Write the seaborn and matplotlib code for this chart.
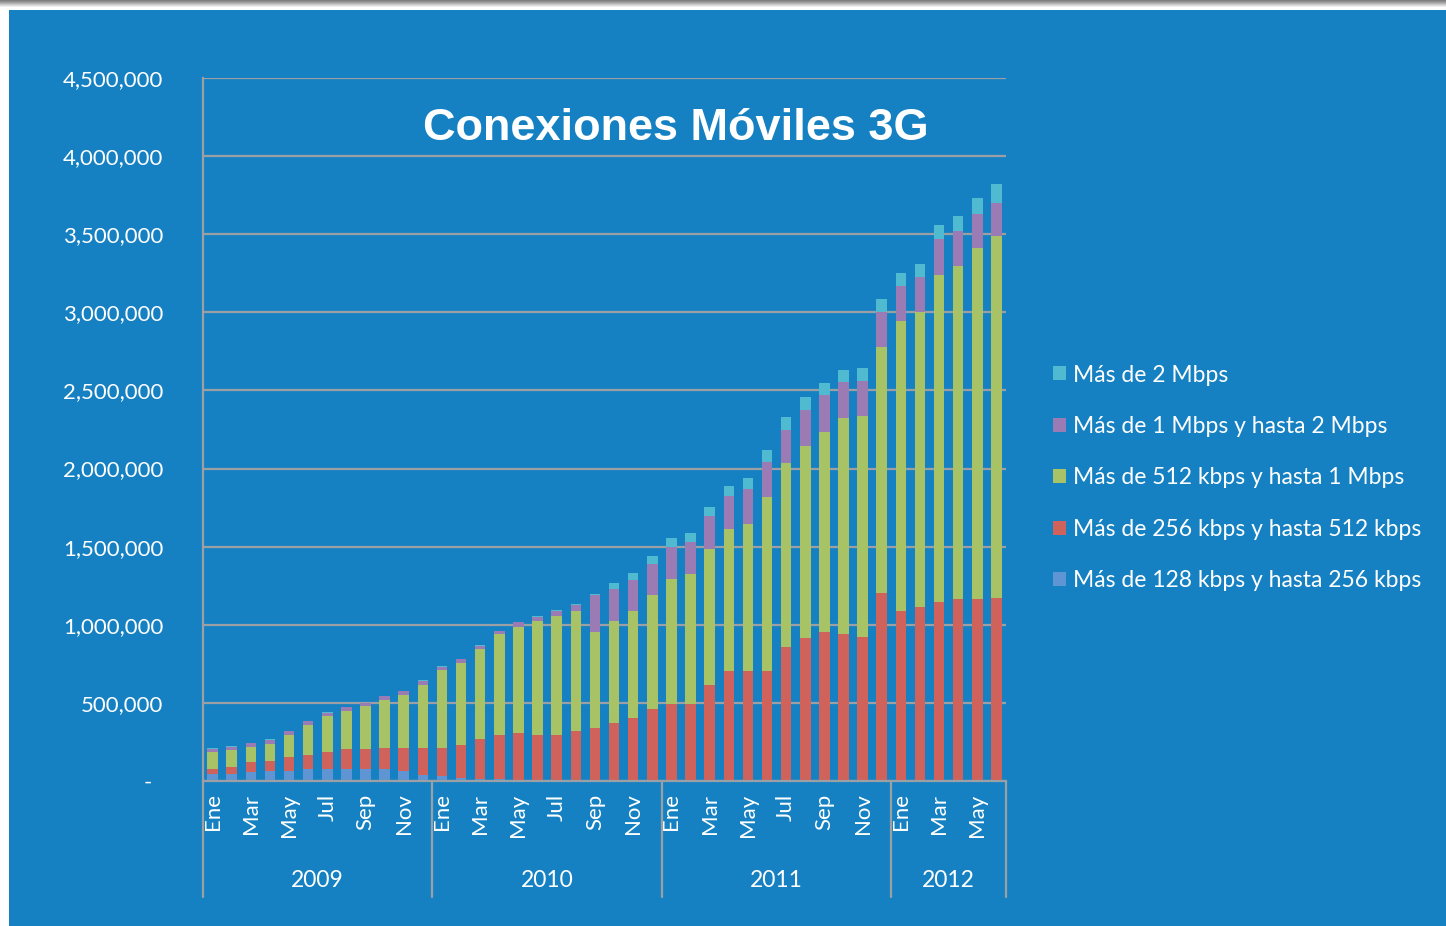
import numpy as np
import pandas as pd
import matplotlib
matplotlib.use("Agg")
import matplotlib.pyplot as plt
from matplotlib.patches import Patch, Rectangle
import seaborn as sns

# ---------------- data ----------------
years = ["2009", "2010", "2011", "2012"]
months_per_year = [12, 12, 12, 6]
month_names = ["Ene", "Feb", "Mar", "Abr", "May", "Jun",
               "Jul", "Ago", "Sep", "Oct", "Nov", "Dic"]
month_labels_shown = ["Ene", "Mar", "May", "Jul", "Sep", "Nov"]

yticks = [0, 500000, 1000000, 1500000, 2000000, 2500000,
          3000000, 3500000, 4000000, 4500000]
ytick_labels = ["-  ", "500,000", "1,000,000", "1,500,000", "2,000,000",
                "2,500,000", "3,000,000", "3,500,000", "4,000,000", "4,500,000"]

series_names = ["Más de 128 kbps y hasta 256 kbps",
                "Más de 256 kbps y hasta 512 kbps",
                "Más de 512 kbps y hasta 1 Mbps",
                "Más de 1 Mbps y hasta 2 Mbps",
                "Más de 2 Mbps"]

s_128_256 = [47000, 47000, 58000, 62000, 64000, 75000, 79000, 79000, 79000, 75000, 64000, 36000,
             32000, 17000, 11000, 10000, 6000, 4000, 3000, 2000, 2000, 1000, 1000, 1000,
             1000, 1000, 1000, 1000, 1000, 1000, 1000, 1000, 1000, 1000, 1000, 1000,
             1000, 1000, 1000, 1000, 1000, 1000]
s_256_512 = [32000, 43000, 64000, 66000, 90000, 89000, 107000, 124000, 124000, 136000, 149000, 177000,
             181000, 213000, 256000, 284000, 303000, 290000, 291000, 320000, 335000, 372000, 400000, 459000,
             492000, 492000, 613000, 705000, 705000, 705000, 859000, 916000, 955000, 938000, 918000, 1202000,
             1085000, 1110000, 1147000, 1162000, 1162000, 1173000]
s_512_1m = [107000, 110000, 96000, 111000, 138000, 192000, 228000, 243000, 275000, 309000, 335000, 400000,
            497000, 527000, 576000, 645000, 674000, 732000, 762000, 768000, 619000, 653000, 687000, 732000,
            797000, 829000, 868000, 904000, 936000, 1113000, 1173000, 1229000, 1279000, 1386000, 1416000, 1574000,
            1859000, 1892000, 2089000, 2134000, 2252000, 2317000]
s_1m_2m = [22000, 20000, 25000, 25000, 28000, 26000, 23000, 26000, 21000, 24000, 26000, 28000,
           22000, 24000, 23000, 21000, 32000, 26000, 30000, 38000, 234000, 200000, 198000, 200000,
           210000, 209000, 216000, 214000, 224000, 220000, 217000, 228000, 235000, 230000, 228000, 228000,
           226000, 221000, 231000, 226000, 216000, 211000]
s_2m = [3000, 3000, 3000, 3000, 3000, 3000, 3000, 3000, 3000, 3000, 3000, 3000,
        3000, 3000, 3000, 3000, 5000, 6000, 8000, 8000, 8000, 39000, 47000, 50000,
        57000, 58000, 57000, 66000, 71000, 79000, 81000, 81000, 79000, 79000, 81000, 82000,
        83000, 88000, 93000, 96000, 101000, 118000]

series_values = [s_128_256, s_256_512, s_512_1m, s_1m_2m, s_2m]
series_colors = ["#5E95D2", "#CF625A", "#A8C366", "#9A7BB3", "#4FBAD0"]

# ---------------- build frame ----------------
periodos, mes_corto = [], []
for y, n in zip(years, months_per_year):
    for m in month_names[:n]:
        periodos.append(f"{m} {y}")
        mes_corto.append(m)

df = pd.DataFrame({"periodo": periodos})
for name, vals in zip(series_names, series_values):
    df[name] = vals
cum = df[series_names].cumsum(axis=1)
for name in series_names:
    df["cum_" + name] = cum[name]

# ---------------- style ----------------
sns.set_style("white")
plt.rcParams["font.family"] = ["Lato", "DejaVu Sans"]

BG = "#1581C2"
GRID = "#9C9FA3"
W, H = 1446, 926

fig = plt.figure(figsize=(W / 100, H / 100), dpi=100)
fig.patch.set_facecolor("white")
fig.add_artist(Rectangle((9 / W, 0), 1, (H - 10) / H, transform=fig.transFigure,
                         facecolor=BG, edgecolor="none", zorder=-5))
# thin gray strip at the top
grays = ["#7F7F7F", "#8E8E8E", "#A0A0A0", "#B4B4B4", "#C8C8C8", "#DCDCDC", "#EEEEEE"]
for i, g in enumerate(grays):
    fig.add_artist(Rectangle((0, (H - i - 1) / H), 1, 1 / H, transform=fig.transFigure,
                             facecolor=g, edgecolor="none", zorder=-4))

ax = fig.add_axes([203 / W, (H - 781) / H, (1006 - 203) / W, (781 - 78) / H])
ax.set_facecolor("none")

# stacked bars: draw cumulative totals from top layer to bottom layer
for name, color in reversed(list(zip(series_names, series_colors))):
    sns.barplot(data=df, x="periodo", y="cum_" + name, color=color, saturation=1,
                width=0.55, errorbar=None, ax=ax, order=periodos, linewidth=0)

n = len(periodos)
ax.set_xlim(-0.5, n - 0.5)
ax.set_ylim(0, 4500000)
ax.set_axisbelow(True)
ax.yaxis.grid(True, color=GRID, linewidth=1.6)
ax.xaxis.grid(False)

for s in ["top", "right"]:
    ax.spines[s].set_visible(False)
for s in ["left", "bottom"]:
    ax.spines[s].set_color(GRID)
    ax.spines[s].set_linewidth(1.6)

ax.set_yticks(yticks)
ax.set_yticklabels(ytick_labels)
ax.tick_params(axis="y", length=5, width=1.6, color=GRID, pad=23.5,
               labelcolor="white", labelsize=16)

ax.set_xticks(range(n))
ax.set_xticklabels([m if m in month_labels_shown else "" for m in mes_corto])
ax.tick_params(axis="x", which="major", length=0, pad=9, labelrotation=90,
               labelcolor="white", labelsize=16)
ax.set_xticks(np.arange(-0.5, n, 1), minor=True)
ax.tick_params(axis="x", which="minor", length=46, width=1.6, color=GRID, direction="out")
ax.set_xlabel("")
ax.set_ylabel("")

# year separators and labels
bounds = np.concatenate([[0], np.cumsum(months_per_year)]) - 0.5
trans = ax.get_xaxis_transform()
for b in bounds:
    ax.plot([b, b], [0, -0.165], transform=trans, clip_on=False, color=GRID, lw=1.6)
for i, y in enumerate(years):
    ax.text((bounds[i] + bounds[i + 1]) / 2, -0.141, y, transform=trans,
            ha="center", va="center", color="white", fontsize=16.5)

# title
fig.text(676 / W, (H - 128) / H, "Conexiones Móviles 3G", ha="center", va="center",
         color="white", fontsize=32.5, fontweight="bold", family=["Liberation Sans", "DejaVu Sans"])

# legend
handles = [Patch(facecolor=c, edgecolor="none") for c in series_colors][::-1]
labels = series_names[::-1]
leg = fig.legend(handles, labels, loc="center left",
                 bbox_to_anchor=(1053 / W, (H - 478) / H), frameon=False,
                 borderpad=0, borderaxespad=0, handlelength=0.57, handleheight=0.57,
                 handletextpad=0.32, labelspacing=1.33, fontsize=16.5)
for t in leg.get_texts():
    t.set_color("white")

fig.savefig("out.png", dpi=100, facecolor=fig.get_facecolor())
